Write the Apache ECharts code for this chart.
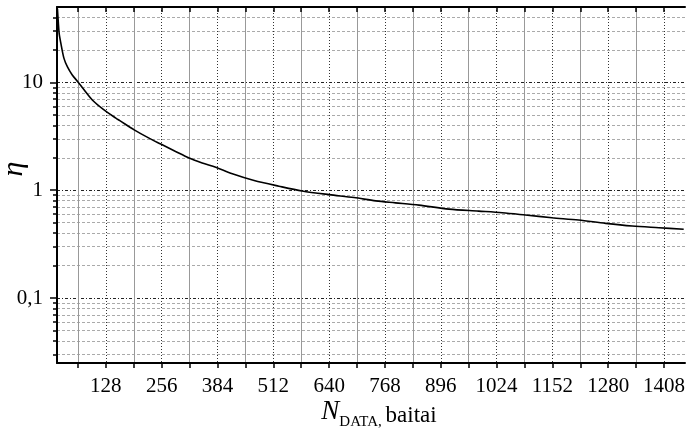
<!DOCTYPE html>
<html><head><meta charset="utf-8">
<script src="https://cdn.jsdelivr.net/npm/echarts@6/dist/echarts.min.js"></script>
<style>html,body{margin:0;padding:0;background:#fff}#c{width:686px;height:437px}</style>
</head><body><div id="c"></div>
<script>
// Data
const nData = [17, 19, 21, 25, 32, 40, 51, 65, 97, 124, 151, 160, 193, 227, 254, 288, 319, 349, 380, 418, 468, 525, 578, 640, 697, 747, 792, 846, 915, 983, 1037, 1090, 1151, 1212, 1274, 1335, 1396, 1453];
const etaData = [48, 36, 28.3, 22.9, 16.7, 13.9, 11.7, 10, 6.87, 5.55, 4.66, 4.42, 3.63, 3.04, 2.68, 2.29, 1.99, 1.79, 1.63, 1.42, 1.23, 1.09, 0.985, 0.91, 0.855, 0.796, 0.764, 0.727, 0.668, 0.64, 0.618, 0.589, 0.556, 0.529, 0.493, 0.466, 0.449, 0.434];
const xMajorTicks = [128, 256, 384, 512, 640, 768, 896, 1024, 1152, 1280, 1408];
const xMinorTicks = [64, 192, 320, 448, 576, 704, 832, 960, 1088, 1216, 1344];
const xAllTicks = [64, 128, 192, 256, 320, 384, 448, 512, 576, 640, 704, 768, 832, 896, 960, 1024, 1088, 1152, 1216, 1280, 1344, 1408];
const yMajorTicks = [0.1, 1, 10];
const yMinorTicks = [0.03, 0.04, 0.05, 0.06, 0.07, 0.08, 0.09, 0.2, 0.3, 0.4, 0.5, 0.6, 0.7, 0.8, 0.9, 2, 3, 4, 5, 6, 7, 8, 9, 20, 30, 40];

const FONT = '"Liberation Serif", serif';
const xMin = 16, xMax = 1456, yMin = 0.025, yMax = 50;

const chart = echarts.init(document.getElementById('c'), null, {renderer: 'canvas'});
const seriesData = nData.map((n, i) => [n, etaData[i]]);

chart.setOption({
  animation: false,
  backgroundColor: '#fff',
  grid: {left: 57, top: 7, right: 1, bottom: 74, containLabel: false, outerBoundsMode: 'none'},
  xAxis: [
    {
      type: 'value', min: xMin, max: xMax, position: 'bottom',
      axisLine: {show: true, onZero: false, lineStyle: {color: '#000', width: 2}},
      axisTick: {show: true, customValues: xMajorTicks, length: 5, lineStyle: {color: '#000', width: 1.5}},
      axisLabel: {show: true, customValues: xMajorTicks, margin: 13, color: '#000', fontFamily: FONT, fontSize: 21,
        formatter: v => String(v)},
      splitLine: {show: true, lineStyle: {color: '#333', width: 1, type: [1, 2]}},
      name: '{n|N}{s|DATA, }{t|baitai}',
      nameLocation: 'middle', nameGap: 32, nameMoveOverlap: false,
      nameTextStyle: {
        color: '#000', fontFamily: FONT, padding: [0, 0, 0, 16],
        rich: {
          n: {fontFamily: FONT, fontStyle: 'italic', fontSize: 27, color: '#000', verticalAlign: 'bottom', lineHeight: 30},
          s: {fontFamily: FONT, fontSize: 15, color: '#000', verticalAlign: 'bottom', lineHeight: 14, padding: [0, 0, -5, 0]},
          t: {fontFamily: FONT, fontSize: 23, color: '#000', verticalAlign: 'bottom', lineHeight: 26, padding: [0, 0, -2, 0]}
        }
      }
    },
    {
      type: 'value', min: xMin, max: xMax, position: 'bottom',
      axisLine: {show: false, onZero: false},
      axisTick: {show: true, customValues: xMinorTicks, length: 5, lineStyle: {color: '#000', width: 1.5}},
      axisLabel: {show: false},
      splitLine: {show: true, lineStyle: {color: '#999', width: 1, type: 'solid'}}
    },
    {
      type: 'value', min: xMin, max: xMax, position: 'top',
      axisLine: {show: true, onZero: false, lineStyle: {color: '#000', width: 2}},
      axisTick: {show: true, inside: true, customValues: xAllTicks, length: 5, lineStyle: {color: '#000', width: 1.5}},
      axisLabel: {show: false},
      splitLine: {show: false}
    }
  ],
  yAxis: [
    {
      type: 'log', logBase: 10, min: yMin, max: yMax, position: 'left',
      axisLine: {show: true, onZero: false, lineStyle: {color: '#000', width: 2}},
      axisTick: {show: true, customValues: yMajorTicks, length: 7, lineStyle: {color: '#000', width: 1.5}},
      axisLabel: {show: true, customValues: yMajorTicks, margin: 14, color: '#000', fontFamily: FONT, fontSize: 21,
        formatter: v => String(v).replace('.', ',')},
      splitLine: {show: true, lineStyle: {color: '#222', width: 1, type: [3, 2, 1, 2]}},
      name: 'η', nameLocation: 'middle', nameGap: 28, nameRotate: 90, nameMoveOverlap: false,
      nameTextStyle: {color: '#000', fontFamily: FONT, fontStyle: 'italic', fontSize: 30, padding: [0, 0, 0, 32]}
    },
    {
      type: 'log', logBase: 10, min: yMin, max: yMax, position: 'left',
      axisLine: {show: false, onZero: false},
      axisTick: {show: true, customValues: yMinorTicks, length: 4, lineStyle: {color: '#000', width: 1.5}},
      axisLabel: {show: false},
      splitLine: {show: true, lineStyle: {color: '#aaa', width: 1, type: [3, 2]}}
    }
  ],
  series: [{
    type: 'line', xAxisIndex: 0, yAxisIndex: 0,
    data: seriesData, showSymbol: false, symbol: 'none', smooth: 0.3,
    lineStyle: {color: '#000', width: 1.6}, clip: true
  }]
});
</script></body></html>
